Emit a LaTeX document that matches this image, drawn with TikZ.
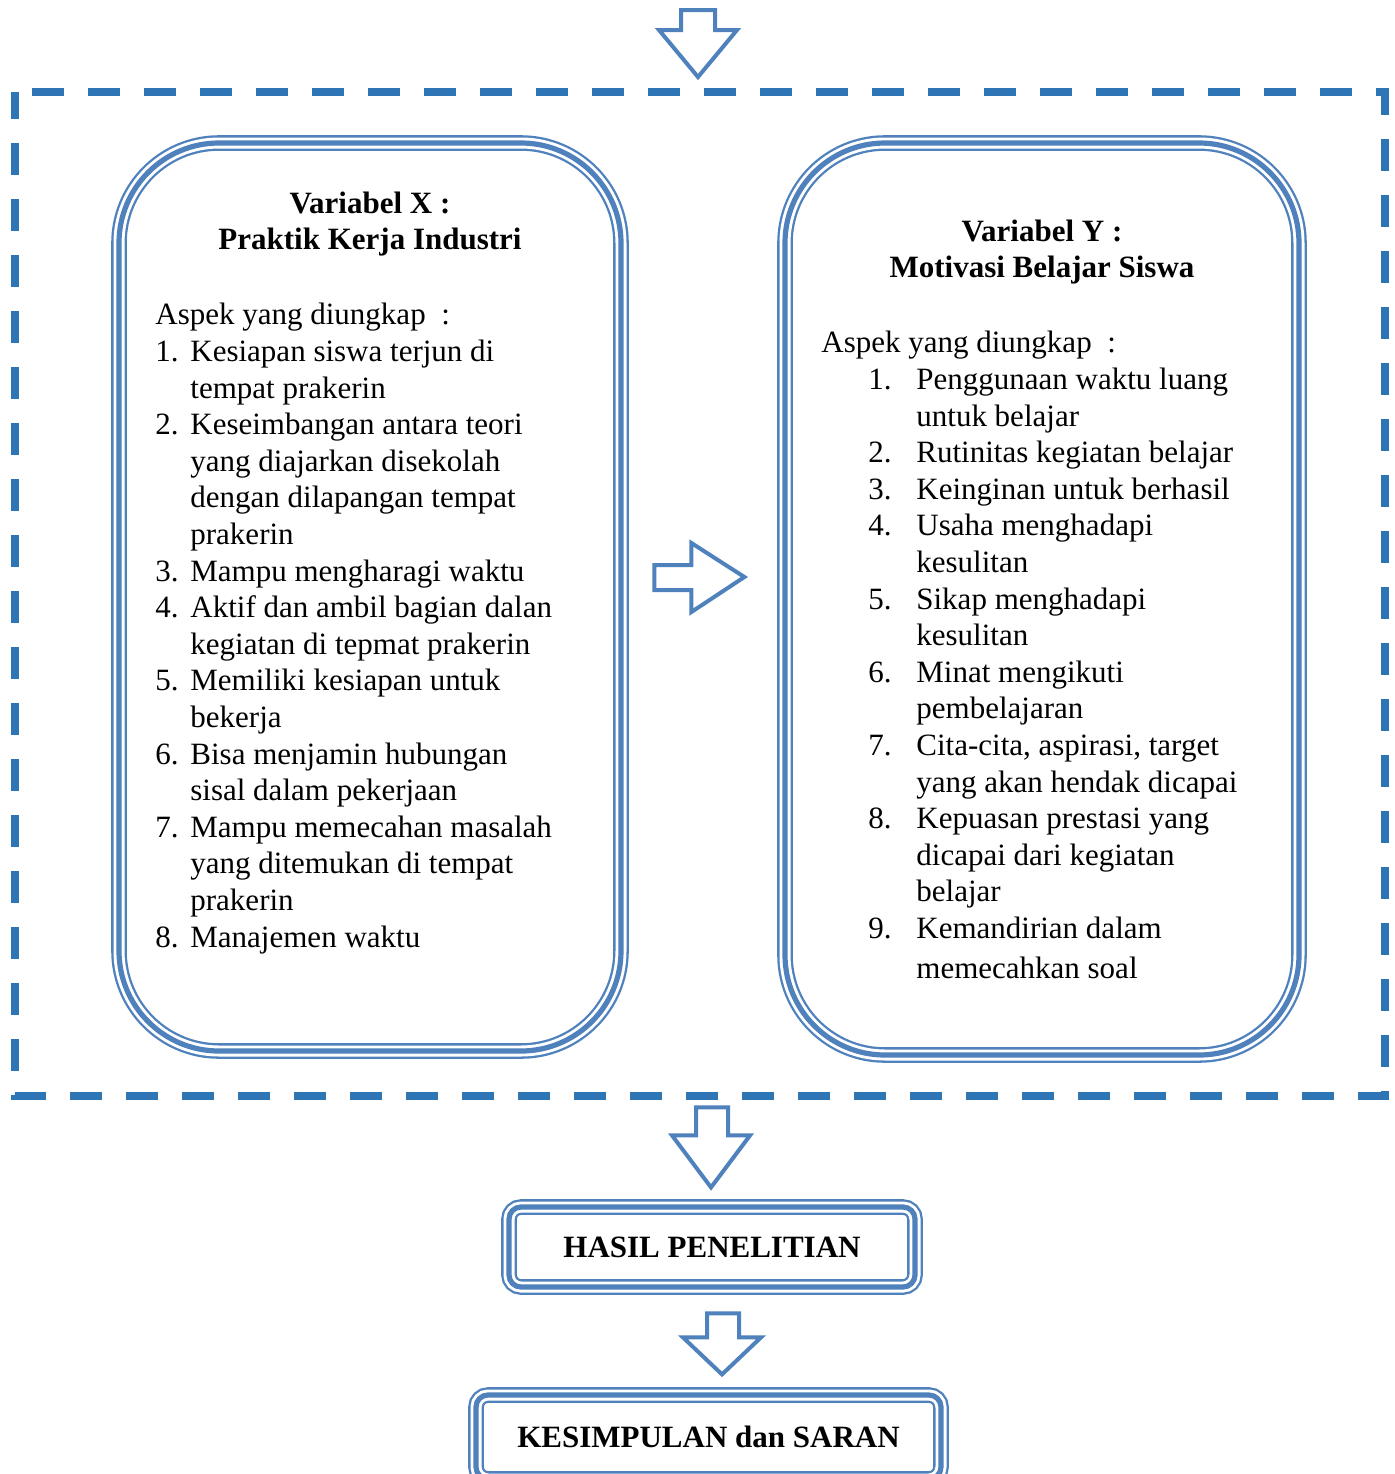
\documentclass[tikz,border=0pt]{standalone}
\usepackage{fontspec}
\setmainfont{Liberation Serif}
\usetikzlibrary{positioning}

\definecolor{boxblue}{RGB}{79,129,189}
\definecolor{dashblue}{RGB}{46,117,182}

\newcommand{\numx}[1]{\makebox[17.5pt][l]{#1}}
\newcommand{\numy}[1]{\hspace*{23.5pt}\makebox[24pt][l]{#1}}

\tikzset{
    trilin/.style={draw=boxblue, line width=2.6pt,
        preaction={draw=boxblue, line width=7.8pt},
        preaction={draw=white, line width=5.5pt}},
    bigbox/.style={trilin, rectangle, rounded corners=50pt, inner sep=0pt},
    smallbox/.style={trilin, rectangle, rounded corners=6pt, inner sep=0pt,
        font=\fontsize{15.5}{18.3}\selectfont\bfseries},
    blockarr/.style={draw=boxblue, line width=2pt, fill=white, line join=miter},
    framedash/.style={draw=dashblue, line width=4pt, dash pattern=on 16pt off 12pt, dash phase=19.5pt},
    listtext/.style={align=left, inner sep=0pt, font=\fontsize{15.5}{18.3}\selectfont},
    titletext/.style={align=center, inner sep=0pt, font=\fontsize{15.5}{18}\selectfont\bfseries},
}

\begin{document}
\begin{tikzpicture}[x=0.5pt, y=-0.5pt]
        \useasboundingbox (0,0) rectangle (1394,1474);

        % dashed frame
        \draw[framedash] (15,92) -- (1385,92) -- (1385,1096) -- (15,1096) -- cycle;

        % the two variables
        \node[bigbox, minimum width=251pt, minimum height=454pt] (boxX) at (370,597) {};
        \node[bigbox, minimum width=257pt, minimum height=456pt] (boxY) at (1042,599) {};

        \node[titletext, anchor=north] (titleX) at (370,192) {Variabel X :\\ Praktik Kerja Industri};
        \node[titletext, anchor=north] (titleY) at (1042,220) {Variabel Y :\\ Motivasi Belajar Siswa};

        \node[listtext, anchor=north west] (listX) at (155,303) {
            Aspek yang diungkap \ :\\
            \numx{1.}Kesiapan siswa terjun di\\
            \numx{}tempat prakerin\\
            \numx{2.}Keseimbangan antara teori\\
            \numx{}yang diajarkan disekolah\\
            \numx{}dengan dilapangan tempat\\
            \numx{}prakerin\\
            \numx{3.}Mampu mengharagi waktu\\
            \numx{4.}Aktif dan ambil bagian dalan\\
            \numx{}kegiatan di tepmat prakerin\\
            \numx{5.}Memiliki kesiapan untuk\\
            \numx{}bekerja\\
            \numx{6.}Bisa menjamin hubungan\\
            \numx{}sisal dalam pekerjaan\\
            \numx{7.}Mampu memecahan masalah\\
            \numx{}yang ditemukan di tempat\\
            \numx{}prakerin\\
            \numx{8.}Manajemen waktu
        };

        \node[listtext, anchor=north west] (listY) at (821,331) {
            Aspek yang diungkap \ :\\
            \numy{1.}Penggunaan waktu luang\\
            \numy{}untuk belajar\\
            \numy{2.}Rutinitas kegiatan belajar\\
            \numy{3.}Keinginan untuk berhasil\\
            \numy{4.}Usaha menghadapi\\
            \numy{}kesulitan\\
            \numy{5.}Sikap menghadapi\\
            \numy{}kesulitan\\
            \numy{6.}Minat mengikuti\\
            \numy{}pembelajaran\\
            \numy{7.}Cita-cita, aspirasi, target\\
            \numy{}yang akan hendak dicapai\\
            \numy{8.}Kepuasan prestasi yang\\
            \numy{}dicapai dari kegiatan\\
            \numy{}belajar\\
            \numy{9.}Kemandirian dalam\\[1.5pt]
            \numy{}memecahkan soal
        };

        % results
        \node[smallbox, minimum width=203pt, minimum height=40pt] (hasil) at (712,1247) {HASIL PENELITIAN};
        \node[smallbox, minimum width=232.5pt, minimum height=42pt] (kesimpulan) at (708.5,1437) {KESIMPULAN dan SARAN};

        % block arrows
        \coordinate (tipIn) at (698,77);
        \coordinate (tipXY) at ([xshift=-19pt,yshift=11pt]boxY.west);
        \coordinate (tipHasil) at ([xshift=-0.5pt,yshift=8.5pt]hasil.north);
        \coordinate (tipKes) at ([xshift=6.75pt,yshift=9pt]kesimpulan.north);

        \draw[blockarr] (tipIn) -- ++(-39,-47) -- ++(22,0) -- ++(0,-20) -- ++(34,0) -- ++(0,20) -- ++(22,0) -- cycle;
        \draw[blockarr] (tipXY) -- ++(-53,-34) -- ++(0,22) -- ++(-37,0) -- ++(0,25) -- ++(37,0) -- ++(0,22) -- cycle;
        \draw[blockarr] (tipHasil) -- ++(-39,-52) -- ++(24,0) -- ++(0,-28) -- ++(32,0) -- ++(0,28) -- ++(22,0) -- cycle;
        \draw[blockarr] (tipKes) -- ++(-39,-37) -- ++(24,0) -- ++(0,-24) -- ++(32,0) -- ++(0,24) -- ++(22,0) -- cycle;

    \end{tikzpicture}
\end{document}
